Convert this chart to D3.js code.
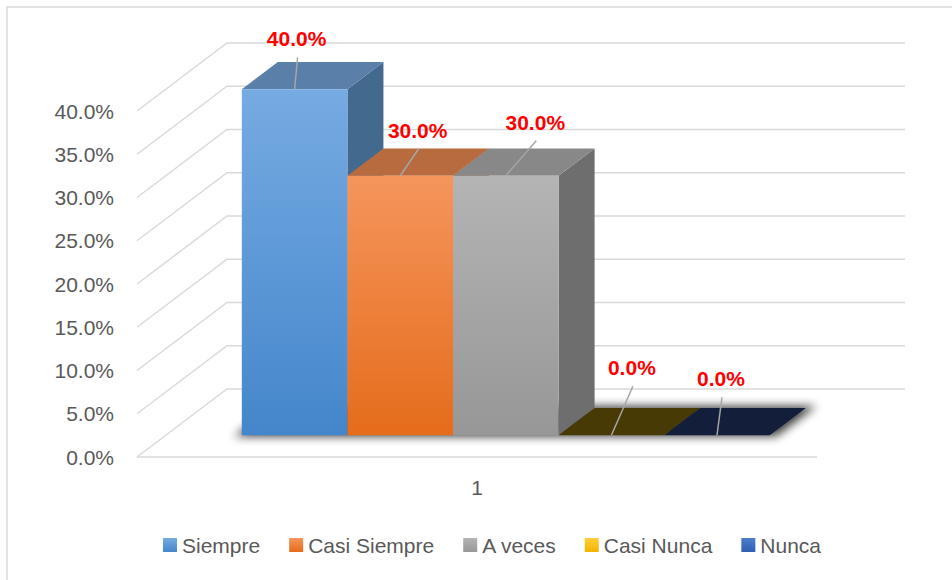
<!DOCTYPE html>
<html>
<head>
<meta charset="utf-8">
<script src="https://cdn.jsdelivr.net/npm/d3@7/dist/d3.min.js"></script>
<style>
  body { margin: 0; background: #fff; }
  svg { display: block; }
</style>
</head>
<body>
<div id="chart"></div>
<script>
// data
const series = ["Siempre", "Casi Siempre", "A veces", "Casi Nunca", "Nunca"];
const values = [0.40, 0.30, 0.30, 0.00, 0.00];
const categories = ["1"];
const yTicks = [0, 0.05, 0.10, 0.15, 0.20, 0.25, 0.30, 0.35, 0.40];

// per-series colours (front gradient top/bottom, top face, side face)
const frontTop = ["#76abe2", "#f5955c", "#b4b4b4", "#ffcd38", "#4f7bcc"];
const frontBottom = ["#4486cb", "#e56c1b", "#979797", "#f0b400", "#2f5fb3"];
const topFace = ["#5a7fa9", "#b86b3f", "#888888", "#473a05", "#131f3a"];
const sideFace = ["#44698f", "#9a4f1c", "#6e6e6e", "#3a2f02", "#0e172c"];

// manual placement of the data labels relative to the bar (as in the original)
const labelNudge = [[2, -43], [17.5, -38], [29.5, -46], [20.5, -60], [4, -49]];

const W = 952, H = 580;
const DX = 90, DY = 68;      // depth of the floor
const z0 = 0.32, z1 = 0.72;  // bar depth inside the floor

const svg = d3.select("#chart").append("svg")
    .attr("width", W)
    .attr("height", H);

const defs = svg.append("defs");

// chart border
svg.append("rect")
    .attr("x", 7).attr("y", 7)
    .attr("width", W + 20).attr("height", H + 20)
    .attr("fill", "#fff")
    .attr("stroke", "#d9d9d9")
    .attr("stroke-width", 1.5);

const y = d3.scaleLinear().domain([0, 0.40]).range([457, 111]);
const xCat = d3.scaleBand().domain(categories).range([137, 817]);
const x = d3.scaleBand().domain(series)
    .range(xCat.range())
    .paddingInner(0)
    .paddingOuter(0.72);

const proj = (xf, v, z) => [xf + z * DX, y(v) - z * DY];
const poly = pts => d3.line()(pts) + "Z";

// walls: left-side diagonals + back horizontals
const grid = svg.append("g")
    .attr("fill", "none")
    .attr("stroke", "#d9d9d9")
    .attr("stroke-width", 1.5);

yTicks.forEach(t => {
  const a = proj(137, t, 0), b = proj(137, t, 1), c = proj(817, t, 1);
  grid.append("path").attr("d", d3.line()([a, b, [c[0] - 2, c[1]]]));
});
grid.append("line")
    .attr("x1", 137).attr("x2", 817)
    .attr("y1", y(0)).attr("y2", y(0));

// y-axis labels
const fmt = d3.format(".1%");
svg.append("g")
    .selectAll("text")
    .data(yTicks)
    .join("text")
    .attr("x", 114)
    .attr("y", d => y(d))
    .attr("dy", "0.36em")
    .attr("text-anchor", "end")
    .attr("font-family", "Liberation Sans, Arial, sans-serif")
    .attr("font-size", 21)
    .attr("fill", "#595959")
    .text(d => fmt(d));

// category label
svg.append("text")
    .attr("x", xCat(categories[0]) + xCat.bandwidth() / 2)
    .attr("y", 495)
    .attr("text-anchor", "middle")
    .attr("font-family", "Liberation Sans, Arial, sans-serif")
    .attr("font-size", 21)
    .attr("fill", "#595959")
    .text(categories[0]);

// shadow under the bars
const blur = defs.append("filter").attr("id", "shadow")
    .attr("x", "-20%").attr("y", "-50%").attr("width", "140%").attr("height", "200%");
blur.append("feGaussianBlur").attr("stdDeviation", 5);

const bw = x.bandwidth();
const xa = x(series[0]), xb = x(series[series.length - 1]) + bw;
svg.append("path")
    .attr("d", poly([
      proj(xa - 6, 0, z0 - 0.02), proj(xb + 8, 0, z0 - 0.02),
      proj(xb + 8, 0, z1 + 0.03), proj(xa - 6, 0, z1 + 0.03)
    ]))
    .attr("fill", "#000")
    .attr("opacity", 0.75)
    .attr("filter", "url(#shadow)");

// gradients for front faces and legend keys
series.forEach((s, i) => {
  const g = defs.append("linearGradient")
      .attr("id", "front" + i)
      .attr("x1", 0).attr("y1", 0).attr("x2", 0).attr("y2", 1);
  g.append("stop").attr("offset", "0%").attr("stop-color", frontTop[i]);
  g.append("stop").attr("offset", "100%").attr("stop-color", frontBottom[i]);
});

// bars, left to right
const bars = svg.append("g");
series.forEach((s, i) => {
  const v = values[i];
  const l = x(s), r = x(s) + bw;
  const g = bars.append("g");
  g.append("path")
      .attr("d", poly([proj(r, 0, z0), proj(r, v, z0), proj(r, v, z1), proj(r, 0, z1)]))
      .attr("fill", sideFace[i]);
  g.append("path")
      .attr("d", poly([proj(l, v, z0), proj(r, v, z0), proj(r, v, z1), proj(l, v, z1)]))
      .attr("fill", topFace[i]);
  if (v > 0) {
    const p = proj(l, v, z0), q = proj(r, 0, z0);
    g.append("rect")
        .attr("x", p[0]).attr("y", p[1])
        .attr("width", q[0] - p[0]).attr("height", q[1] - p[1])
        .attr("fill", `url(#front${i})`);
  }
});

// data labels with leader lines
const labels = svg.append("g");
series.forEach((s, i) => {
  const v = values[i];
  const anchor = proj(x(s) + bw / 2, v, z0);
  const lx = anchor[0] + labelNudge[i][0];
  const ly = anchor[1] + labelNudge[i][1];
  labels.append("line")
      .attr("x1", lx + 1).attr("y1", ly + 11)
      .attr("x2", anchor[0]).attr("y2", anchor[1])
      .attr("stroke", "#a6a6a6")
      .attr("stroke-width", 1.5);
  labels.append("text")
      .attr("x", lx).attr("y", ly)
      .attr("text-anchor", "middle")
      .attr("font-family", "Liberation Sans, Arial, sans-serif")
      .attr("font-weight", "bold")
      .attr("font-size", 21)
      .attr("fill", "#ff0000")
      .text(fmt(v));
});

// legend
const legend = svg.append("g");
let cx = 0;
series.forEach((s, i) => {
  const item = legend.append("g").attr("transform", `translate(${cx},0)`);
  item.append("rect")
      .attr("x", 0).attr("y", -7)
      .attr("width", 14).attr("height", 14)
      .attr("fill", `url(#front${i})`);
  const t = item.append("text")
      .attr("x", 19).attr("y", 0)
      .attr("dy", "0.36em")
      .attr("font-family", "Liberation Sans, Arial, sans-serif")
      .attr("font-size", 21)
      .attr("fill", "#595959")
      .text(s);
  cx += 19 + t.node().getComputedTextLength() + 29;
});
const legendW = cx - 29;
legend.attr("transform", `translate(${492 - legendW / 2},545)`);
</script>
</body>
</html>
